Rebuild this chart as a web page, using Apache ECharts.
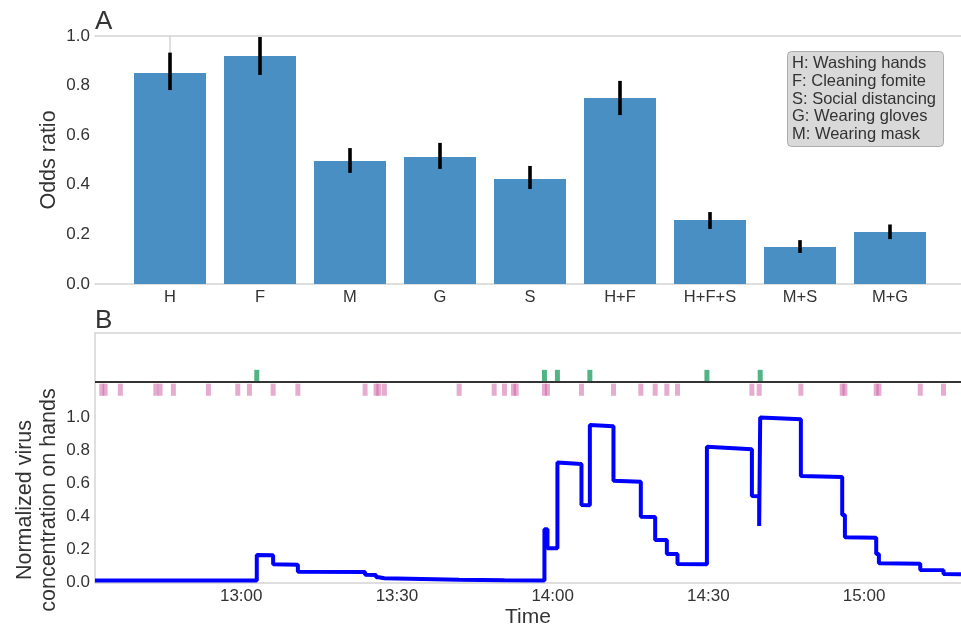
<!DOCTYPE html>
<html>
<head>
<meta charset="utf-8">
<script src="https://cdn.jsdelivr.net/npm/echarts@6/dist/echarts.min.js"></script>
<style>
  html, body { margin: 0; padding: 0; background: #fff; }
  #chart { width: 961px; height: 627px; }
</style>
</head>
<body>
<div id="chart"></div>
<script>
// ---- Panel A: odds ratios per intervention ----
const interventions = ['H', 'F', 'M', 'G', 'S', 'H+F', 'H+F+S', 'M+S', 'M+G'];
const oddsRatio = [0.851, 0.919, 0.496, 0.512, 0.423, 0.750, 0.258, 0.149, 0.210];
const ciLower   = [0.782, 0.843, 0.448, 0.464, 0.383, 0.681, 0.222, 0.125, 0.181];
const ciUpper   = [0.933, 0.996, 0.548, 0.569, 0.476, 0.819, 0.290, 0.177, 0.240];
const legendLines = [
  'H: Washing hands',
  'F: Cleaning fomite',
  'S: Social distancing',
  'G: Wearing gloves',
  'M: Wearing mask'
];
const oddsTicks = [0, 0.2, 0.4, 0.6, 0.8, 1.0];

// ---- Panel B: contact events and virus level on hands ----
const contaminatedTouches = ['13:03:00', '13:58:25', '14:00:55', '14:07:10', '14:29:43', '14:39:59'];
const cleanTouches = [
  '12:33:08', '12:33:47', '12:36:43', '12:43:33', '12:44:22', '12:46:56', '12:53:41',
  '12:59:20', '13:01:35', '13:06:09', '13:10:55', '13:23:52', '13:25:59', '13:26:31',
  '13:27:35', '13:41:59', '13:48:44', '13:50:43', '13:52:27', '13:52:58', '13:58:25',
  '13:59:00', '14:05:33', '14:11:43', '14:16:59', '14:19:45', '14:22:00', '14:24:03',
  '14:38:23', '14:39:47', '14:47:49', '14:55:47', '14:56:18', '15:02:20', '15:02:51',
  '15:10:49', '15:15:18'
];
const handTimes = [
  '12:31:50', '13:03:00', '13:03:00', '13:06:09', '13:06:09', '13:10:55', '13:10:55',
  '13:23:52', '13:23:52', '13:25:59', '13:25:59', '13:26:31', '13:26:31', '13:27:35',
  '13:27:35', '13:41:59', '13:41:59', '13:50:43', '13:50:43', '13:58:25', '13:58:25',
  '13:59:00', '13:59:00', '14:00:55', '14:00:55', '14:05:33', '14:05:33', '14:07:10',
  '14:07:10', '14:11:43', '14:11:43', '14:16:59', '14:16:59', '14:19:45', '14:19:45',
  '14:22:00', '14:22:00', '14:24:03', '14:24:03', '14:29:43', '14:29:43', '14:38:23',
  '14:38:23', '14:39:47', '14:39:47', '14:39:59', '14:39:59', '14:47:49', '14:47:49',
  '14:55:47', '14:55:47', '14:56:18', '14:56:18', '15:02:20', '15:02:20', '15:02:51',
  '15:02:51', '15:10:49', '15:10:49', '15:15:18', '15:15:18', '15:18:40'
];
const handLevels = [
  0.012, 0.012, 0.167, 0.165, 0.110, 0.108, 0.065,
  0.063, 0.047, 0.046, 0.032, 0.032, 0.026, 0.026,
  0.018, 0.017, 0.015, 0.014, 0.013, 0.012, 0.322,
  0.322, 0.207, 0.207, 0.728, 0.718, 0.470, 0.468,
  0.955, 0.947, 0.617, 0.610, 0.399, 0.397, 0.258,
  0.257, 0.173, 0.172, 0.112, 0.111, 0.823, 0.808,
  0.524, 0.522, 0.342, 0.342, 1.000, 0.990, 0.645,
  0.640, 0.409, 0.409, 0.274, 0.271, 0.173, 0.173,
  0.116, 0.114, 0.076, 0.075, 0.052, 0.050
];
const timeTicks = ['13:00', '13:30', '14:00', '14:30', '15:00'];
const timeStart = '12:31:50';
const timeEnd = '15:18:40';
const levelTicks = [0, 0.2, 0.4, 0.6, 0.8, 1.0];

// clock string -> minutes since midnight
function toMin(s) {
  const p = s.split(':').map(Number);
  return p[0] * 60 + p[1] + (p[2] || 0) / 60;
}
function fmtClock(m) {
  const h = Math.floor(m / 60 + 1e-9);
  const mm = Math.round(m - h * 60);
  return h + ':' + String(mm).padStart(2, '0');
}

const FONT = "'Liberation Sans', Arial, sans-serif";
const TXT = '#333333';
const SPINE = { show: true, lineStyle: { color: '#d4d4d4', width: 1.5 } };
const tMin = toMin(timeStart), tMax = toMin(timeEnd);

const chart = echarts.init(document.getElementById('chart'), null, { renderer: 'canvas' });

// vertical confidence interval stroke
function ciItem(params, api) {
  const a = api.coord([api.value(0), api.value(1)]);
  const b = api.coord([api.value(0), api.value(2)]);
  return {
    type: 'line',
    shape: { x1: a[0], y1: a[1], x2: b[0], y2: b[1] },
    style: { stroke: '#000', lineWidth: 3.6 }
  };
}
// event tick in the strip above the concentration trace
function eventItem(y0, y1, color) {
  return function (params, api) {
    const top = api.coord([api.value(0), y1]);
    const bot = api.coord([api.value(0), y0]);
    return {
      type: 'rect',
      shape: { x: top[0] - 2.5, y: top[1], width: 5, height: bot[1] - top[1] },
      style: { fill: color }
    };
  };
}

const gridBase = { left: 95, right: 0, outerBoundsMode: 'none', containLabel: false };

const option = {
  animation: false,
  backgroundColor: '#fff',
  textStyle: { fontFamily: FONT },
  grid: [
    Object.assign({ top: 36, height: 248 }, gridBase),
    Object.assign({ top: 333, height: 84.5 }, gridBase),
    Object.assign({ top: 417.5, height: 165 }, gridBase)
  ],
  xAxis: [
    {
      gridIndex: 0, type: 'value', min: -0.8333, max: -0.8333 + 866 / 90,
      axisLine: Object.assign({ onZero: false }, SPINE),
      axisTick: { show: false }, splitLine: { show: false },
      axisLabel: {
        customValues: interventions.map((_, i) => i),
        formatter: v => interventions[Math.round(v)] || '',
        color: TXT, fontSize: 16.5, fontFamily: FONT, margin: 5
      }
    },
    {
      gridIndex: 1, type: 'value', min: tMin, max: tMax, position: 'top',
      axisLine: Object.assign({ onZero: false }, SPINE),
      axisTick: { show: false }, splitLine: { show: false }, axisLabel: { show: false }
    },
    {
      gridIndex: 2, type: 'value', min: tMin, max: tMax,
      axisLine: Object.assign({ onZero: false }, SPINE),
      axisTick: { show: false }, splitLine: { show: false },
      axisLabel: {
        customValues: timeTicks.map(toMin),
        formatter: v => fmtClock(v),
        color: TXT, fontSize: 17, fontFamily: FONT, margin: 5
      },
      name: 'Time', nameLocation: 'middle', nameGap: 24, nameMoveOverlap: false,
      nameTextStyle: { color: TXT, fontSize: 21, fontFamily: FONT }
    },
    {
      gridIndex: 0, type: 'value', min: -0.8333, max: -0.8333 + 866 / 90, position: 'top',
      axisLine: Object.assign({ onZero: false }, SPINE),
      axisTick: { show: false }, splitLine: { show: false }, axisLabel: { show: false }
    }
  ],
  yAxis: [
    {
      gridIndex: 0, type: 'value', min: 0, max: 1,
      axisLine: SPINE, axisTick: { show: false }, splitLine: { show: false },
      axisLabel: {
        customValues: oddsTicks,
        formatter: v => v.toFixed(1),
        color: TXT, fontSize: 17, fontFamily: FONT, margin: 5
      },
      name: 'Odds ratio', nameLocation: 'middle', nameRotate: 90, nameGap: 35,
      nameMoveOverlap: false,
      nameTextStyle: { color: TXT, fontSize: 21.5, fontFamily: FONT }
    },
    {
      gridIndex: 1, type: 'value', min: -3, max: 4,
      axisLine: SPINE, axisTick: { show: false }, splitLine: { show: false },
      axisLabel: { show: false }
    },
    {
      gridIndex: 2, type: 'value', min: 0, max: 1,
      axisLine: SPINE, axisTick: { show: false }, splitLine: { show: false },
      axisLabel: {
        customValues: levelTicks,
        formatter: v => v.toFixed(1),
        color: TXT, fontSize: 17, fontFamily: FONT, margin: 5
      },
      name: 'Normalized virus\nconcentration on hands',
      nameLocation: 'middle', nameRotate: 90, nameGap: 33.5, nameMoveOverlap: false,
      nameTextStyle: { color: TXT, fontSize: 21.5, lineHeight: 24, fontFamily: FONT }
    }
  ],
  series: [
    {
      type: 'bar', xAxisIndex: 0, yAxisIndex: 0, barWidth: 72,
      itemStyle: { color: '#4a8fc3' },
      data: oddsRatio.map((v, i) => [i, v])
    },
    {
      type: 'custom', xAxisIndex: 0, yAxisIndex: 0, renderItem: ciItem,
      encode: { x: 0, y: [1, 2] },
      data: interventions.map((_, i) => [i, ciLower[i], ciUpper[i]]),
      z: 5
    },
    {
      type: 'custom', xAxisIndex: 1, yAxisIndex: 1,
      renderItem: eventItem(-1.2, -0.2, 'rgba(204, 90, 160, 0.5)'),
      encode: { x: 0, y: 1 },
      data: cleanTouches.map(t => [toMin(t), 0])
    },
    {
      type: 'custom', xAxisIndex: 1, yAxisIndex: 1,
      renderItem: eventItem(0, 0.95, '#52b484'),
      encode: { x: 0, y: 1 },
      data: contaminatedTouches.map(t => [toMin(t), 0]),
      markLine: {
        silent: true, symbol: 'none', label: { show: false },
        lineStyle: { color: '#333', width: 2, type: 'solid' },
        data: [{ yAxis: 0 }]
      }
    },
    {
      type: 'line', xAxisIndex: 2, yAxisIndex: 2, clip: false,
      showSymbol: false, symbol: 'none',
      lineStyle: { color: '#0000ff', width: 4 },
      data: handTimes.map((t, i) => [toMin(t), handLevels[i]])
    }
  ],
  graphic: [
    { type: 'text', left: 95, top: 9, style: { text: 'A', font: '26px ' + FONT, fill: TXT } },
    { type: 'text', left: 95, top: 308, style: { text: 'B', font: '26px ' + FONT, fill: TXT } },
    {
      type: 'rect', left: 787, top: 51,
      shape: { width: 156, height: 95, r: 4 },
      style: { fill: '#d9d9d9', stroke: '#ababab', lineWidth: 1 }
    },
    {
      type: 'text', left: 792, top: 55,
      style: { text: legendLines.join('\n'), font: '16.5px ' + FONT, lineHeight: 17.6, fill: TXT }
    }
  ]
};

chart.setOption(option);
</script>
</body>
</html>
